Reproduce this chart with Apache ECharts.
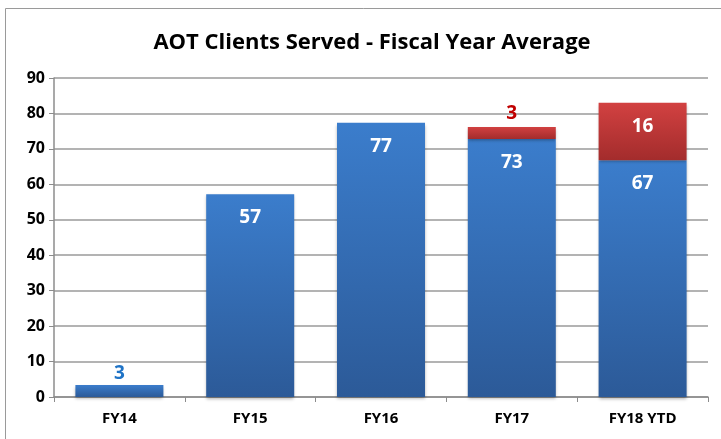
<!DOCTYPE html>
<html>
<head>
<meta charset="utf-8">
<script src="https://cdn.jsdelivr.net/npm/echarts@6/dist/echarts.min.js"></script>
<style>
  html, body { margin: 0; padding: 0; background: #fff; }
  #main { width: 721px; height: 439px; }
</style>
</head>
<body>
<div id="main"></div>
<script>
// 数据
var categories = ['FY14', 'FY15', 'FY16', 'FY17', 'FY18 YTD'];
var baseValues = [3.4, 57.2, 77.4, 72.8, 66.8];
var extraValues = [null, null, null, 3.4, 16.2];
var yTicks = [0, 10, 20, 30, 40, 50, 60, 70, 80, 90];

var FONT = '"Open Sans", sans-serif';

var chart = echarts.init(document.getElementById('main'));

var blueFill = new echarts.graphic.LinearGradient(0, 0, 0, 1, [
  { offset: 0, color: '#3b7dcc' },
  { offset: 1, color: '#2c5a98' }
]);
var redFill = new echarts.graphic.LinearGradient(0, 0, 0, 1, [
  { offset: 0, color: '#d24141' },
  { offset: 1, color: '#a32c2c' }
]);

//  底部蓝色柱子
var baseData = baseValues.map(function (v, i) {
  var item = { value: v };
  if (v < 10) {
    item.label = { position: 'top', distance: 2, color: '#1f73c6' };
  }
  return item;
});
// 顶部红色柱子
var extraData = extraValues.map(function (v) {
  if (v == null) return '-';
  var item = { value: v };
  if (v < 10) {
    item.label = { position: 'top', distance: 4, color: '#c00000' };
  }
  return item;
});

var option = {
  animation: false,
  title: {
    text: 'AOT Clients Served - Fiscal Year Average',
    left: 367,
    textAlign: 'center',
    top: 27,
    textStyle: { fontFamily: FONT, fontWeight: 'bold', fontSize: 22, color: '#000' }
  },
  graphic: [{
    type: 'rect',
    shape: { x: 5.5, y: 8.5, width: 740, height: 460 },
    style: { fill: 'none', stroke: '#9a9a9a', lineWidth: 1 }
  }],
  grid: { left: 54, right: 13, top: 78, bottom: 42 },
  xAxis: {
    type: 'category',
    data: categories,
    axisLine: { lineStyle: { color: '#8c8c8c', width: 1.5 } },
    axisTick: { show: true, length: 5, lineStyle: { color: '#8c8c8c' } },
    axisLabel: { fontFamily: FONT, fontWeight: 'bold', fontSize: 15, color: '#000', margin: 14 }
  },
  yAxis: {
    type: 'value',
    min: 0,
    max: 90,
    interval: 10,
    axisLine: { show: true, lineStyle: { color: '#8c8c8c', width: 1.5 } },
    axisTick: { show: true, length: 5, lineStyle: { color: '#8c8c8c' } },
    splitLine: { lineStyle: { color: '#9a9a9a', width: 1.5 } },
    axisLabel: {
      fontFamily: FONT, fontWeight: 'bold', fontSize: 16, color: '#000', margin: 9,
      formatter: function (v) { return yTicks.indexOf(v) >= 0 ? String(v) : ''; }
    }
  },
  series: [
    {
      type: 'bar',
      stack: 'total',
      barWidth: 88,
      data: baseData,
      itemStyle: {
        color: blueFill,
        shadowColor: 'rgba(0,0,0,0.3)', shadowBlur: 3, shadowOffsetY: 2
      },
      label: {
        show: true,
        position: 'insideTop',
        distance: 14,
        fontFamily: FONT, fontWeight: 'bold', fontSize: 19, color: '#fff',
        formatter: function (p) { return Math.round(p.value); }
      }
    },
    {
      type: 'bar',
      stack: 'total',
      barWidth: 88,
      data: extraData,
      itemStyle: {
        color: redFill,
        shadowColor: 'rgba(0,0,0,0.3)', shadowBlur: 3, shadowOffsetY: 2
      },
      label: {
        show: true,
        position: 'insideTop',
        distance: 14,
        fontFamily: FONT, fontWeight: 'bold', fontSize: 19, color: '#fff',
        formatter: function (p) { return Math.round(p.value); }
      }
    }
  ]
};

chart.setOption(option);
</script>
</body>
</html>
